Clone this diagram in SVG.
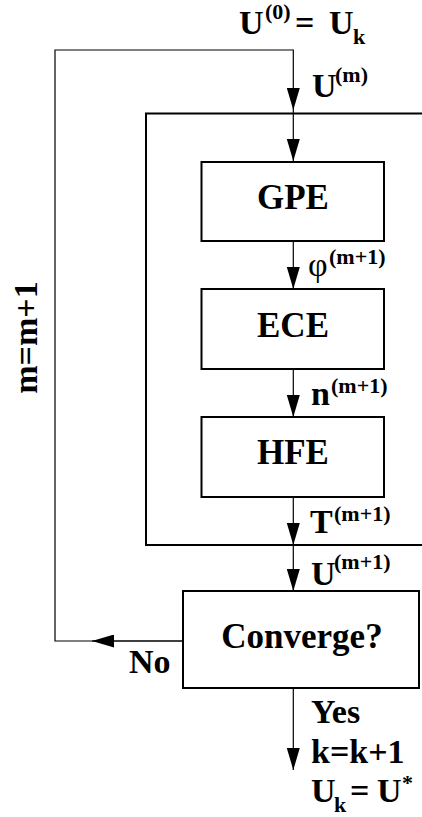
<svg xmlns="http://www.w3.org/2000/svg" width="422" height="817" viewBox="0 0 422 817">
  <style>
    text { font-family: 'Liberation Serif', 'Times New Roman', Times, 'DejaVu Serif', serif; font-weight: bold; fill: #000; }
    .box { fill: #fff; stroke: #000; stroke-width: 2; }
    .frame { fill: none; stroke: #000; stroke-width: 2; }
    .wire { fill: none; stroke: #000; stroke-width: 1.2; }
    .big { font-size: 35px; }
    .lbl { font-size: 34px; }
    .sup { font-size: 22px; }
    .sym { font-weight: normal; }
  </style>
  <defs>
    <marker id="arrow" viewBox="0 0 22 13" refX="22" refY="6.5" markerWidth="22" markerHeight="13" markerUnits="userSpaceOnUse" orient="auto">
      <path d="M0,0 L22,6.5 L0,13 Z" fill="#000"/>
    </marker>
  </defs>

  <!-- solver frame enclosing the three equation blocks -->
  <path class="frame" d="M424,113.5 H146 V545 H424"/>

  <g id="connectors">
    <!-- iteration loop: back from Converge? (No) up to the start -->
    <path class="wire" d="M183,641 H55 V50 H293.3 V110" marker-end="url(#arrow)"/>
    <path class="wire" d="M183,641 H92" marker-end="url(#arrow)"/>
    <path class="wire" d="M293.3,110 V161" marker-end="url(#arrow)"/>
    <path class="wire" d="M293.3,241 V289" marker-end="url(#arrow)"/>
    <path class="wire" d="M293.3,369 V417" marker-end="url(#arrow)"/>
    <path class="wire" d="M293.3,497 V545" marker-end="url(#arrow)"/>
    <path class="wire" d="M293.3,545 V591" marker-end="url(#arrow)"/>
    <path class="wire" d="M293.3,688 V770" marker-end="url(#arrow)"/>
  </g>

  <g id="gpe">
    <rect class="box" x="201.5" y="162" width="182.5" height="79"/>
    <text class="big" x="293" y="209" text-anchor="middle">GPE</text>
  </g>
  <g id="ece">
    <rect class="box" x="201.5" y="289" width="182.5" height="80"/>
    <text class="big" x="293" y="337" text-anchor="middle">ECE</text>
  </g>
  <g id="hfe">
    <rect class="box" x="201.5" y="417" width="182.5" height="80"/>
    <text class="big" x="293" y="464" text-anchor="middle">HFE</text>
  </g>
  <g id="converge">
    <rect class="box" x="183" y="591" width="236" height="97"/>
    <text class="big" x="302" y="648" text-anchor="middle">Converge?</text>
  </g>

  <g id="labels">
    <!-- initial value -->
    <text class="lbl" x="239" y="34">U</text>
    <text class="sup" x="265" y="19">(0)</text>
    <text class="lbl" x="295" y="34">=</text>
    <text class="lbl" x="329" y="34">U</text>
    <text class="sup" x="353" y="44">k</text>

    <text class="lbl" x="312" y="97">U</text>
    <text class="sup" x="335" y="82">(m)</text>

    <text class="lbl sym" x="308" y="276">φ</text>
    <text class="sup" x="329" y="264">(m+1)</text>

    <text class="lbl" x="311" y="405">n</text>
    <text class="sup" x="331" y="393">(m+1)</text>

    <text class="lbl" x="310" y="533">T</text>
    <text class="sup" x="334" y="521">(m+1)</text>

    <text class="lbl" x="311" y="585">U</text>
    <text class="sup" x="334" y="569">(m+1)</text>

    <text class="lbl" x="129" y="673">No</text>
    <text class="lbl" x="311" y="723">Yes</text>
    <text class="lbl" x="311" y="763">k=k+1</text>

    <text class="lbl" x="311" y="802">U</text>
    <text class="sup" x="334" y="812">k</text>
    <text class="lbl" x="350" y="802">=</text>
    <text class="lbl" x="377" y="802">U</text>
    <text class="sup" x="402" y="790">*</text>

    <text class="lbl" transform="translate(37,337.5) rotate(-90)" text-anchor="middle">m=m+1</text>
  </g>
</svg>
